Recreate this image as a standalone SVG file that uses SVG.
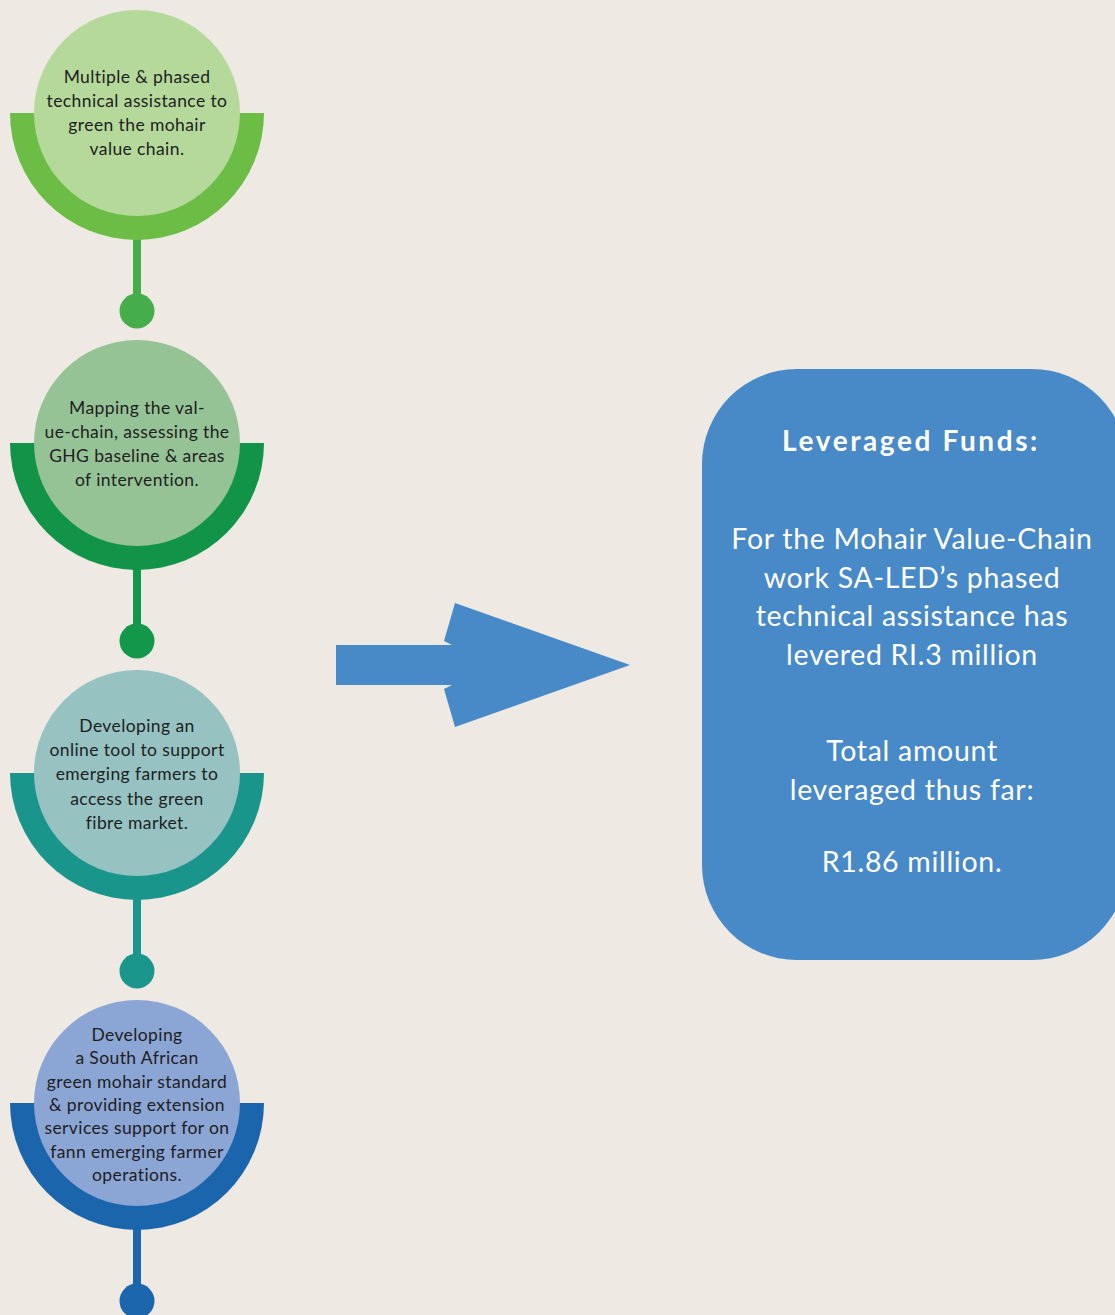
<svg xmlns="http://www.w3.org/2000/svg" width="1115" height="1315" viewBox="0 0 1115 1315">
<style>
.ct{font-family:Lato,"Open Sans","Liberation Sans",sans-serif;font-size:17.5px;letter-spacing:0.4px;fill:#1e1e1e;text-anchor:middle}
.bt{font-family:Lato,"Open Sans","Liberation Sans",sans-serif;font-size:28.5px;letter-spacing:0.7px;fill:#ffffff;text-anchor:middle}
.bh{font-family:Lato,"Open Sans","Liberation Sans",sans-serif;font-size:28px;font-weight:bold;letter-spacing:2.6px;fill:#ffffff;text-anchor:middle}
</style>
<rect width="1115" height="1315" fill="#eeeae3"/>
<g id="connectors">
<rect x="133" y="238" width="8" height="64" fill="#45ad4a"/>
<circle cx="137" cy="311" r="17.5" fill="#45ad4a"/>
<rect x="133" y="568" width="8" height="64" fill="#13974a"/>
<circle cx="137" cy="641" r="17.5" fill="#13974a"/>
<rect x="133" y="898" width="8" height="64" fill="#1a968c"/>
<circle cx="137" cy="971" r="17.5" fill="#1a968c"/>
<rect x="133" y="1228" width="8" height="64" fill="#1b66ad"/>
<circle cx="137" cy="1301" r="17.5" fill="#1b66ad"/>
<polygon id="arrow" points="336,645 452,645 444,641 455,603 630,665 455,727 444,689 452,685 336,685" fill="#4889c8"/>
</g>
<g id="node1">
<path d="M10,113 A127,127 0 0 0 264,113 Z" fill="#6cbd45"/>
<circle cx="137" cy="113" r="103" fill="#b5d99b"/>
<text class="ct"><tspan x="137" y="83">Multiple &amp; phased</tspan><tspan x="137" y="107">technical assistance to</tspan><tspan x="137" y="131">green the mohair</tspan><tspan x="137" y="155">value chain.</tspan></text>
</g>
<g id="node2">
<path d="M10,443 A127,127 0 0 0 264,443 Z" fill="#119447"/>
<circle cx="137" cy="443" r="103" fill="#96c396"/>
<text class="ct"><tspan x="137" y="414">Mapping the val-</tspan><tspan x="137" y="438">ue-chain, assessing the</tspan><tspan x="137" y="462">GHG baseline &amp; areas</tspan><tspan x="137" y="486">of intervention.</tspan></text>
</g>
<g id="node3">
<path d="M10,773 A127,127 0 0 0 264,773 Z" fill="#1a958b"/>
<circle cx="137" cy="773" r="103" fill="#96c2c1"/>
<text class="ct"><tspan x="137" y="732">Developing an</tspan><tspan x="137" y="756">online tool to support</tspan><tspan x="137" y="780">emerging farmers to</tspan><tspan x="137" y="805">access the green</tspan><tspan x="137" y="829">fibre market.</tspan></text>
</g>
<g id="node4">
<path d="M10,1103 A127,127 0 0 0 264,1103 Z" fill="#1b65ac"/>
<circle cx="137" cy="1103" r="103" fill="#8ba5d4"/>
<text class="ct"><tspan x="137" y="1041">Developing</tspan><tspan x="137" y="1064">a South African</tspan><tspan x="137" y="1088">green mohair standard</tspan><tspan x="137" y="1111">&amp; providing extension</tspan><tspan x="137" y="1134">services support for on</tspan><tspan x="137" y="1158">fann emerging farmer</tspan><tspan x="137" y="1181">operations.</tspan></text>
</g>
<g id="box">
<rect x="702" y="369" width="425" height="591" rx="95" ry="95" fill="#4889c8"/>
<text class="bh" x="911" y="451">Leveraged Funds:</text>
<text class="bt"><tspan x="912" y="549">For the Mohair Value-Chain</tspan><tspan x="912" y="588">work SA-LED’s phased</tspan><tspan x="912" y="626">technical assistance has</tspan><tspan x="912" y="665">levered RI.3 million</tspan><tspan x="912" y="761">Total amount</tspan><tspan x="912" y="800">leveraged thus far:</tspan><tspan x="912" y="872">R1.86 million.</tspan></text>
</g>
</svg>
